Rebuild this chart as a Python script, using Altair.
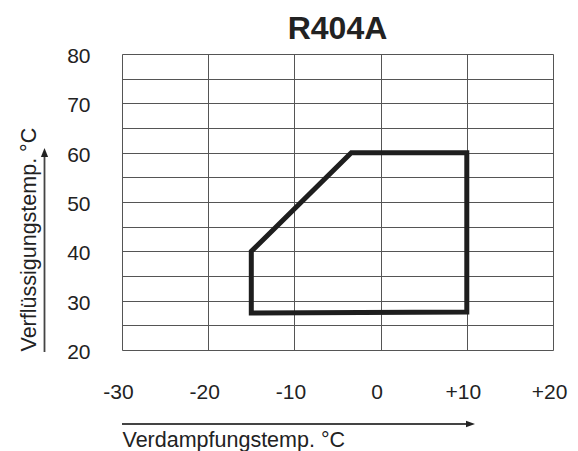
import altair as alt
import pandas as pd

# Envelope polygon (evaporating temp, condensing temp), closed
evap = [-15, -15, -3.4, 10, 10, -15]
cond = [27.5, 40, 60, 60, 27.7, 27.5]
order = [0, 1, 2, 3, 4, 5]

x_ticks = [-30, -20, -10, 0, 10, 20]
y_ticks = [20, 25, 30, 35, 40, 45, 50, 55, 60, 65, 70, 75, 80]

title_text = "R404A"
x_title = "Verdampfungstemp. °C"
y_title = "Verflüssigungstemp. °C"

FONT = "Liberation Sans"
TXT = "#222222"
GRID = "#555555"

df = pd.DataFrame({"evap": evap, "cond": cond, "order": order})

W, H = 431, 296

xscale = alt.Scale(domain=[-30, 20], nice=False, zero=False)
yscale = alt.Scale(domain=[20, 80], nice=False, zero=False)

x_axis = alt.Axis(
    values=x_ticks,
    labelExpr="datum.value > 0 ? '+' + datum.value : '' + datum.value",
    grid=True, gridColor=GRID, gridWidth=1, gridOpacity=1,
    domain=False, ticks=False, tickSize=0,
    labelPadding=31, labelFontSize=21, labelFont=FONT, labelColor=TXT,
    labelOffset=-4, labelFlush=False, labelOverlap=False,
    title=x_title, titleX=0, titleY=96, titleAlign="left",
    titleAnchor="start", titleBaseline="alphabetic",
    titleFontSize=21.5, titleFont=FONT, titleFontWeight="normal", titleColor=TXT,
)

y_axis = alt.Axis(
    values=y_ticks,
    labelExpr="datum.value % 10 == 0 ? '' + datum.value : ''",
    grid=True, gridColor=GRID, gridWidth=1, gridOpacity=1,
    domain=False, ticks=False, tickSize=0,
    labelPadding=32, labelFontSize=21, labelFont=FONT, labelColor=TXT,
    labelOffset=2.5, labelFlush=False, labelOverlap=False,
    title=y_title, titleX=-87, titleY=297, titleAlign="left",
    titleAngle=270, titleBaseline="alphabetic",
    titleFontSize=21.5, titleFont=FONT, titleFontWeight="normal", titleColor=TXT,
)

poly = alt.Chart(df).mark_line(
    color="#1e1e1e", strokeWidth=5, strokeJoin="miter", strokeCap="square", clip=False
).encode(
    x=alt.X("evap:Q", scale=xscale, axis=x_axis),
    y=alt.Y("cond:Q", scale=yscale, axis=y_axis),
    order="order:Q",
)

one = pd.DataFrame({"a": [0]})
ARROW = "#444444"

x_line = alt.Chart(one).mark_rule(color=ARROW, strokeWidth=1.8).encode(
    x=alt.value(0), x2=alt.value(347), y=alt.value(370)
)
x_head = alt.Chart(one).mark_point(
    shape="M1,0 L-1,-0.7 L-1,0.7 Z", filled=True, color="#222222", opacity=1, size=81
).encode(x=alt.value(348.5), y=alt.value(370))

y_line = alt.Chart(one).mark_rule(color=ARROW, strokeWidth=1.8).encode(
    x=alt.value(-77.5), y=alt.value(298), y2=alt.value(99)
)
y_head = alt.Chart(one).mark_point(
    shape="M0,-1 L0.8,1 L-0.8,1 Z", filled=True, color="#222222", opacity=1, size=81
).encode(x=alt.value(-77.5), y=alt.value(98.5))

chart = alt.layer(poly, x_line, x_head, y_line, y_head).properties(
    width=W, height=H,
    title=alt.TitleParams(
        title_text, font=FONT, fontSize=32, fontWeight="bold", color=TXT,
        anchor="middle", frame="group", offset=0,
    ),
    autosize=alt.AutoSizeParams(type="none"),
    padding={"left": 114, "top": 46, "right": 17, "bottom": 110},
).configure_view(
    stroke="#3a3a3a", strokeWidth=1.5
).configure(background="white")

chart.save("out.html", embed_options={"renderer": "svg", "actions": False})
